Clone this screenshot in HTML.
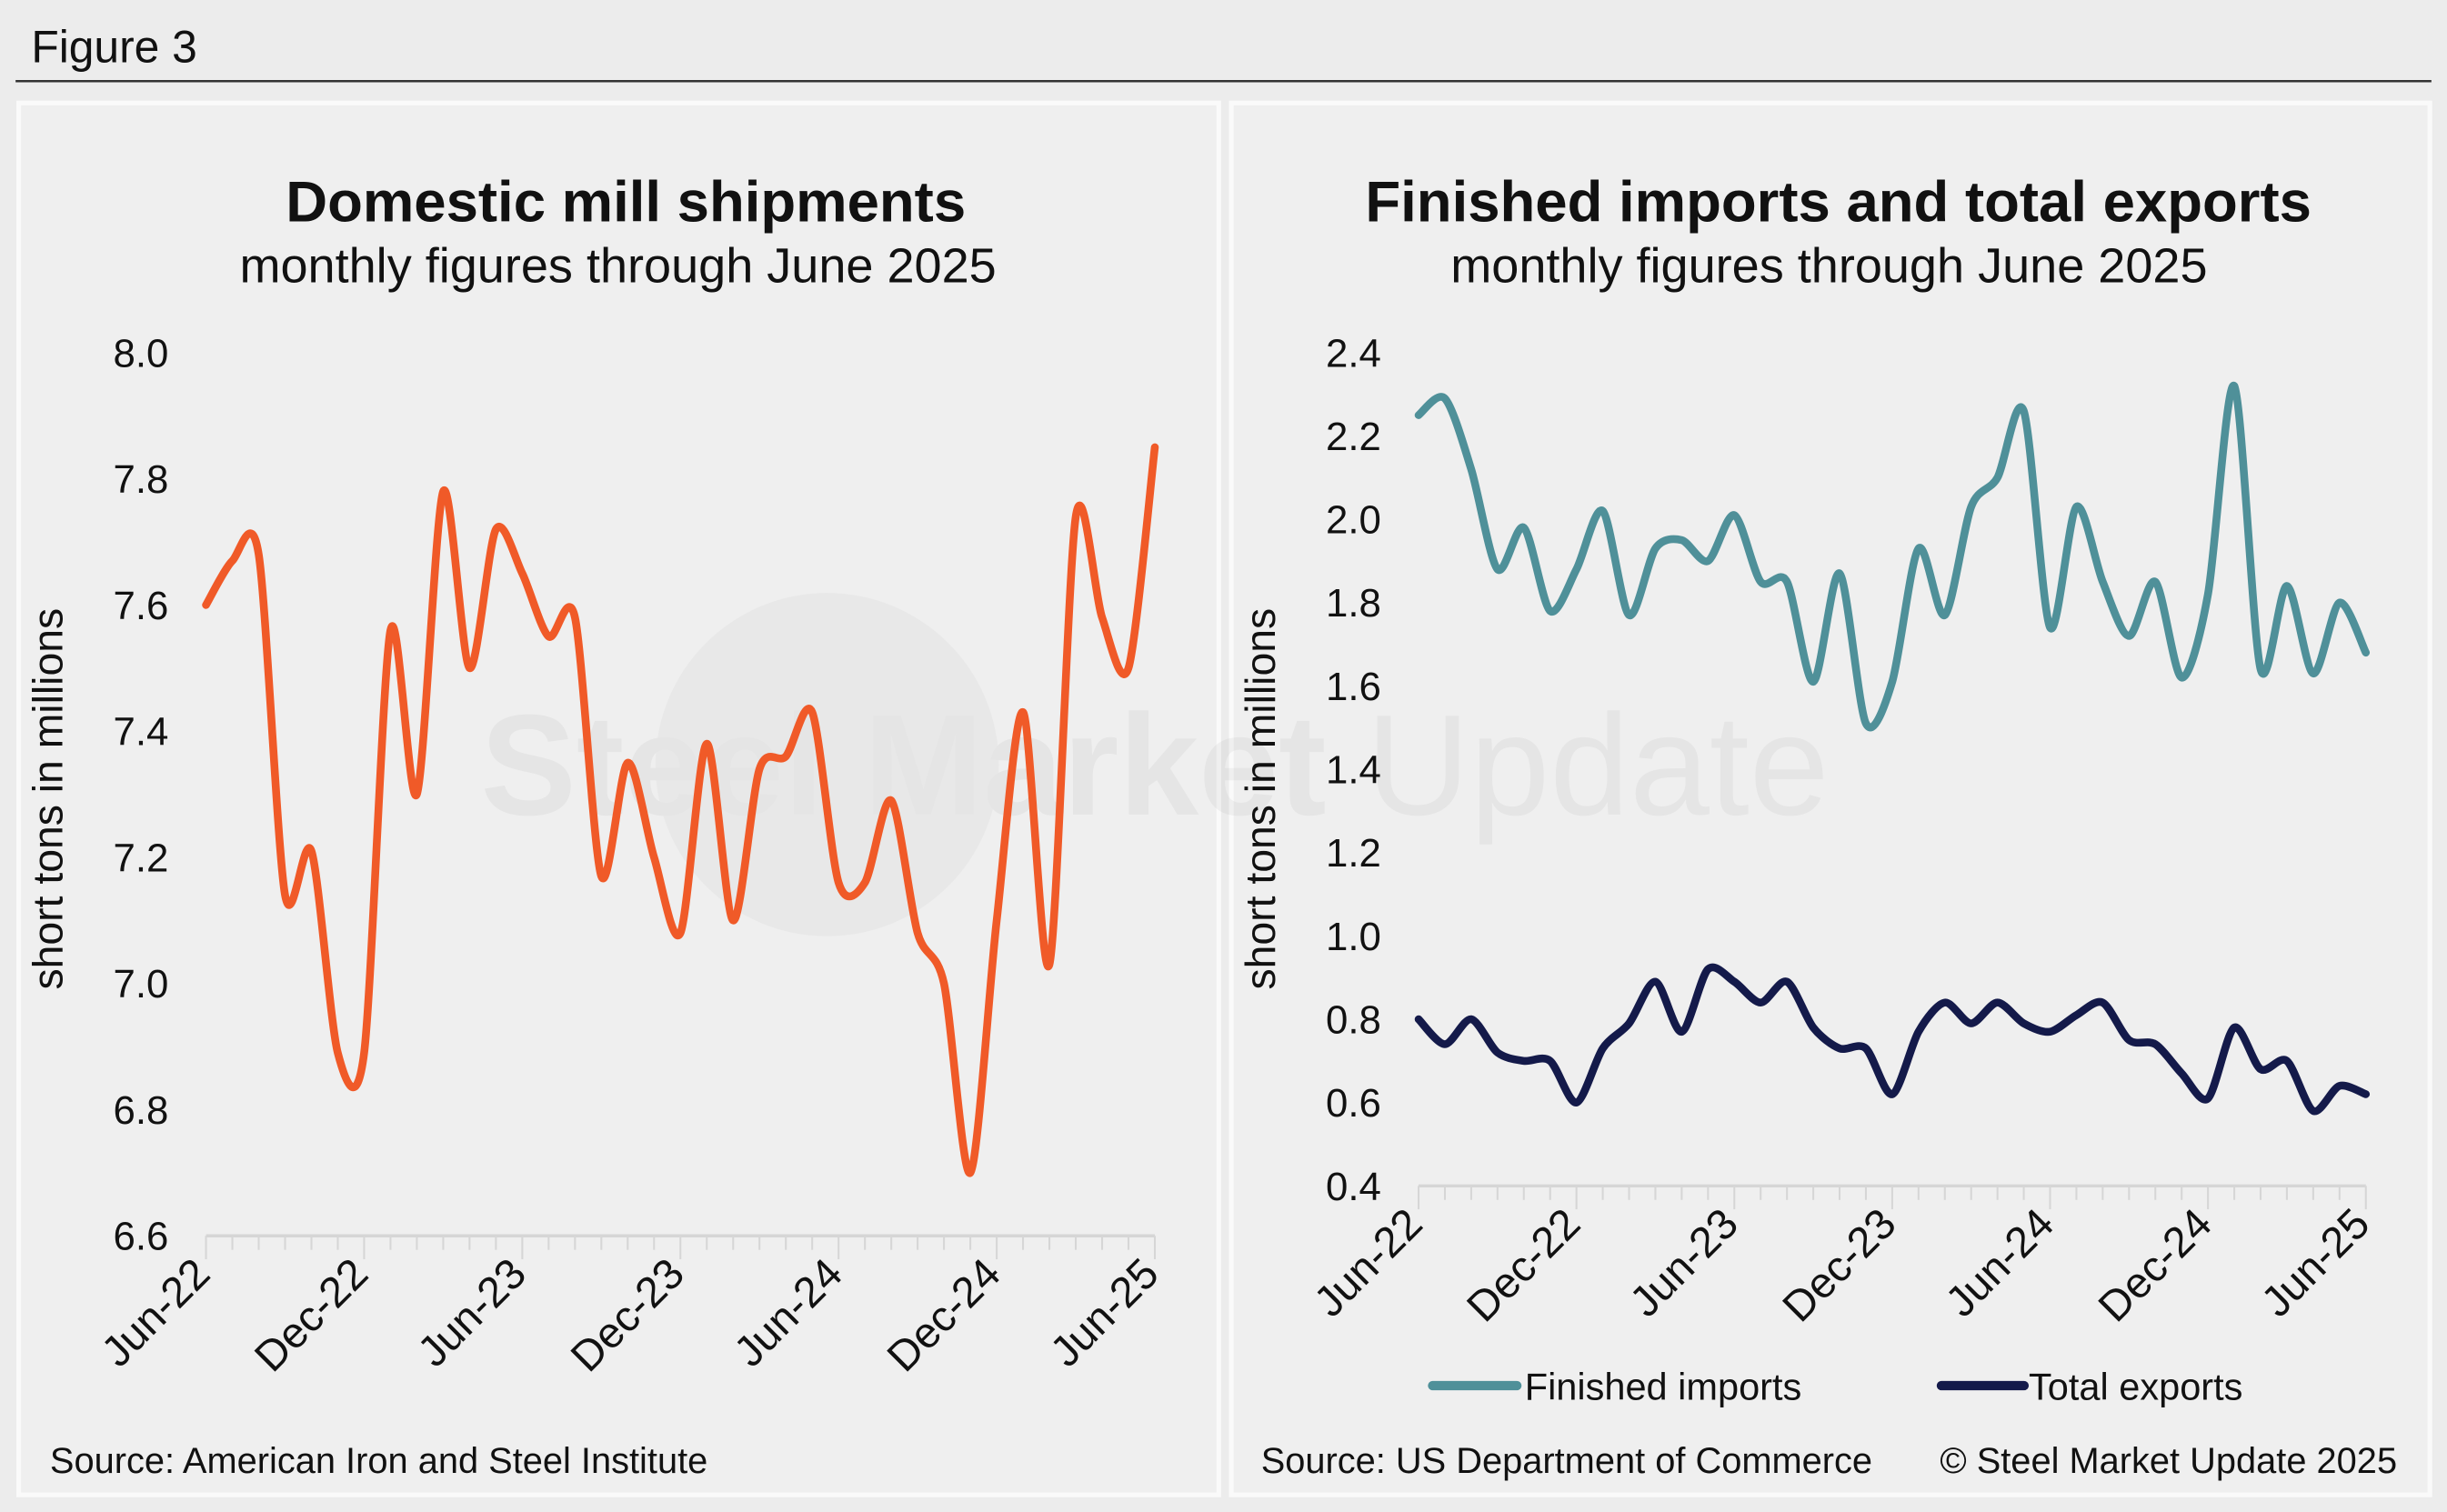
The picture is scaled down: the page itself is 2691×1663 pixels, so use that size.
<!DOCTYPE html>
<html><head><meta charset="utf-8"><style>
html,body{margin:0;padding:0;background:#e9e9e9;}
svg{display:block;font-family:"Liberation Sans",Arial,sans-serif;}
</style></head><body>
<svg id="fig" width="2691" height="1663" viewBox="0 0 1568 969">
<rect x="0" y="0" width="1568" height="969" fill="#ececec"/>
<text x="20" y="40" font-size="29" fill="#111">Figure 3</text>
<line x1="10" y1="52" x2="1558" y2="52" stroke="#333" stroke-width="1.5"/>
<rect x="12" y="66" width="769" height="892" fill="#efefef" stroke="#fafafa" stroke-width="3"/>
<rect x="789" y="66" width="768" height="892" fill="#efefef" stroke="#fafafa" stroke-width="3"/>
<g opacity="0.06">
<circle cx="530" cy="490" r="110" fill="#888"/>
<text x="740" y="522" font-size="92" text-anchor="middle" fill="#555"><tspan font-weight="bold">Steel Market</tspan> Update</text>
</g>
<text x="401" y="142" font-size="37" font-weight="bold" text-anchor="middle" fill="#111">Domestic mill shipments</text>
<text x="396" y="181" font-size="31.5" text-anchor="middle" fill="#111">monthly figures through June 2025</text>
<text x="1178" y="142" font-size="37" font-weight="bold" text-anchor="middle" fill="#111">Finished imports and total exports</text>
<text x="1172" y="181" font-size="31.5" text-anchor="middle" fill="#111">monthly figures through June 2025</text>
<text transform="translate(40,512) rotate(-90)" font-size="27" text-anchor="middle" fill="#111">short tons in millions</text>
<text transform="translate(817,512) rotate(-90)" font-size="27" text-anchor="middle" fill="#111">short tons in millions</text>
<text x="32" y="944" font-size="23.2" fill="#111">Source: American Iron and Steel Institute</text>
<text x="808" y="944" font-size="23.2" fill="#111">Source: US Department of Commerce</text>
<text x="1536" y="944" font-size="23.2" text-anchor="end" fill="#111">© Steel Market Update 2025</text>
<line x1="918" y1="888" x2="972" y2="888" stroke="#4f9099" stroke-width="6" stroke-linecap="round"/>
<text x="977" y="897" font-size="24.2" fill="#111">Finished imports</text>
<line x1="1244" y1="888" x2="1297" y2="888" stroke="#141a4a" stroke-width="6" stroke-linecap="round"/>
<text x="1300" y="897" font-size="24.2" fill="#111">Total exports</text>
<g id="charts"></g>
</svg>
<script>
const xLabels = ["Jun-22","Dec-22","Jun-23","Dec-23","Jun-24","Dec-24","Jun-25"];
const leftTicks = ["6.6","6.8","7.0","7.2","7.4","7.6","7.8","8.0"];
const rightTicks = ["0.4","0.6","0.8","1.0","1.2","1.4","1.6","1.8","2.0","2.2","2.4"];
const shipments = [7.60,7.67,7.68,7.14,7.21,6.89,6.89,7.56,7.30,7.78,7.50,7.72,7.65,7.55,7.58,7.17,7.35,7.20,7.08,7.38,7.10,7.34,7.36,7.43,7.16,7.16,7.29,7.08,7.00,6.70,7.10,7.43,7.03,7.74,7.58,7.50,7.85];
const imports = [2.25,2.29,2.12,1.88,1.98,1.78,1.88,2.02,1.77,1.93,1.95,1.90,2.01,1.85,1.85,1.61,1.87,1.51,1.61,1.93,1.77,2.03,2.10,2.26,1.74,2.03,1.85,1.72,1.85,1.62,1.82,2.32,1.64,1.84,1.63,1.80,1.68];
const exportsArr = [0.80,0.74,0.80,0.72,0.70,0.70,0.60,0.73,0.79,0.89,0.77,0.92,0.89,0.84,0.89,0.78,0.73,0.73,0.62,0.77,0.84,0.79,0.84,0.79,0.77,0.81,0.84,0.75,0.74,0.67,0.61,0.78,0.68,0.70,0.58,0.64,0.62];

const NS="http://www.w3.org/2000/svg";
const root=document.getElementById('charts');
function mk(tag,attrs,parent){const e=document.createElementNS(NS,tag);for(const k in attrs)e.setAttribute(k,attrs[k]);(parent||root).appendChild(e);return e;}
function smooth(pts){let d="M"+pts[0][0]+","+pts[0][1];for(let i=0;i<pts.length-1;i++){const p0=pts[Math.max(i-1,0)],p1=pts[i],p2=pts[i+1],p3=pts[Math.min(i+2,pts.length-1)];const t=1/7;d+=" C"+(p1[0]+(p2[0]-p0[0])*t)+","+(p1[1]+(p2[1]-p0[1])*t)+" "+(p2[0]-(p3[0]-p1[0])*t)+","+(p2[1]-(p3[1]-p1[1])*t)+" "+p2[0]+","+p2[1];}return d;}
function chart(cfg){
  const n=cfg.series[0].data.length;
  const xs=i=>cfg.x0+(cfg.x1-cfg.x0)*i/(n-1);
  const vmin=parseFloat(cfg.ticks[0]),vmax=parseFloat(cfg.ticks[cfg.ticks.length-1]);
  const ys=v=>cfg.yb-(cfg.yb-cfg.yt)*(v-vmin)/(vmax-vmin);
  cfg.ticks.forEach(t=>{const el=mk('text',{x:cfg.x0-24,y:ys(parseFloat(t))+9,'font-size':25.5,'text-anchor':'end',fill:'#111'});el.textContent=t;
    
    });
  const ax=mk('line',{x1:cfg.x0,y1:cfg.yb,x2:cfg.x1,y2:cfg.yb,stroke:'#d6d6d6','stroke-width':2});
  
  
  for(let i=0;i<n;i++){const tk=mk('line',{x1:xs(i),y1:cfg.yb,x2:xs(i),y2:cfg.yb+(i%6==0?15:9),stroke:'#d6d6d6','stroke-width':1.2});
    
    }
  xLabels.forEach((l,j)=>{const x=xs(j*6)+4,y=cfg.yb+26;const el=mk('text',{x:x,y:y,'font-size':27.5,'text-anchor':'end',fill:'#111',transform:'rotate(-45 '+x+' '+y+')'});el.textContent=l;
    
    });
  cfg.series.forEach(s=>{const pts=s.data.map((v,i)=>[xs(i),ys(v)]);
    const p=mk('path',{d:smooth(pts),fill:'none',stroke:s.color,'stroke-width':5,'stroke-linejoin':'round','stroke-linecap':'round'});
    
    });
}
chart({name:'left',x0:132,x1:740,yt:226,yb:792,ticks:leftTicks,series:[{name:'shipments-line',data:shipments,color:'#f05a28'}]});
chart({name:'right',x0:909,x1:1516,yt:226,yb:760,ticks:rightTicks,series:[{name:'imports-line',data:imports,color:'#4f9099'},{name:'exports-line',data:exportsArr,color:'#141a4a'}]});
</script>
</body></html>
